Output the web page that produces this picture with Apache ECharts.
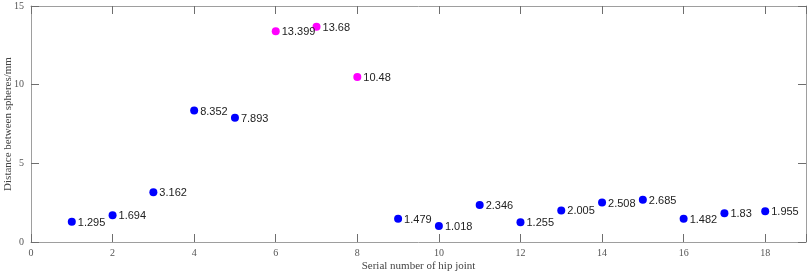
<!DOCTYPE html>
<html>
<head>
<meta charset="utf-8">
<script src="https://cdn.jsdelivr.net/npm/echarts@6/dist/echarts.min.js"></script>
<style>
  html, body { margin: 0; padding: 0; background: #fff; }
  #chart { width: 809px; height: 275px; }
</style>
</head>
<body>
<div id="chart"></div>
<script>
// hip joint serial numbers and measured distances
const jointsNormal = [1, 2, 3, 4, 5, 9, 10, 11, 12, 13, 14, 15, 16, 17, 18]
const distNormal = [1.295, 1.694, 3.162, 8.352, 7.893, 1.479, 1.018, 2.346, 1.255, 2.005, 2.508, 2.685, 1.482, 1.83, 1.955]
const jointsOutlier = [6, 7, 8]
const distOutlier = [13.399, 13.68, 10.48]
const xTicks = [0, 2, 4, 6, 8, 10, 12, 14, 16, 18]
const yTicks = [0, 5, 10, 15]

const toPoints = (xs, ys) => xs.map((x, i) => [x, ys[i]])

const axisGray = '#9e9e9e'
const serif = '"Liberation Serif", "DejaVu Serif", serif'

const chart = echarts.init(document.getElementById('chart'))

const dataLabel = {
  show: true,
  position: 'right',
  distance: 2,
  offset: [0, 1],
  fontFamily: '"Liberation Sans", Arial, sans-serif',
  fontSize: 11,
  color: '#222',
  formatter: p => String(p.value[1])
}

// box axis: line + inward ticks
const boxLine = () => ({ show: true, onZero: false, lineStyle: { color: axisGray, width: 1 } })
const boxTick = () => ({ show: true, inside: true, length: 8, lineStyle: { color: '#6e6e6e', width: 1 } })

const option = {
  animation: false,
  backgroundColor: '#fff',
  grid: { left: 31, right: 3, top: 6, bottom: 33, outerBoundsMode: 'none', containLabel: false },
  xAxis: [
    {
      type: 'value',
      min: 0,
      max: 19,
      interval: 2,
      position: 'bottom',
      name: 'Serial number of hip joint',
      nameLocation: 'middle',
      nameGap: 19,
      nameMoveOverlap: false,
      nameTextStyle: { fontFamily: serif, fontSize: 11, color: '#444' },
      axisLine: boxLine(),
      axisTick: boxTick(),
      axisLabel: {
        fontFamily: serif, fontSize: 10, color: '#555', margin: 6,
        formatter: v => (xTicks.includes(v) ? String(v) : '')
      },
      splitLine: { show: false }
    },
    {
      type: 'value',
      min: 0,
      max: 19,
      interval: 2,
      position: 'top',
      axisLine: boxLine(),
      axisTick: boxTick(),
      axisLabel: { show: false },
      splitLine: { show: false }
    }
  ],
  yAxis: [
    {
      type: 'value',
      min: 0,
      max: 15,
      interval: 5,
      position: 'left',
      name: 'Distance between spheres/mm',
      nameLocation: 'middle',
      nameGap: 17,
      nameMoveOverlap: false,
      nameTextStyle: { fontFamily: serif, fontSize: 11, color: '#444' },
      axisLine: boxLine(),
      axisTick: boxTick(),
      axisLabel: {
        fontFamily: serif, fontSize: 10, color: '#555', margin: 7,
        formatter: v => (yTicks.includes(v) ? String(v) : '')
      },
      splitLine: { show: false }
    },
    {
      type: 'value',
      min: 0,
      max: 15,
      interval: 5,
      position: 'right',
      axisLine: boxLine(),
      axisTick: boxTick(),
      axisLabel: { show: false },
      splitLine: { show: false }
    }
  ],
  series: [
    {
      type: 'scatter',
      data: toPoints(jointsNormal, distNormal),
      symbol: 'circle',
      symbolSize: 8,
      itemStyle: { color: '#0000ff', opacity: 1 },
      label: dataLabel
    },
    {
      type: 'scatter',
      data: toPoints(jointsOutlier, distOutlier),
      symbol: 'circle',
      symbolSize: 8,
      itemStyle: { color: '#ff00ff', opacity: 1 },
      label: dataLabel
    }
  ]
}

chart.setOption(option)
</script>
</body>
</html>
